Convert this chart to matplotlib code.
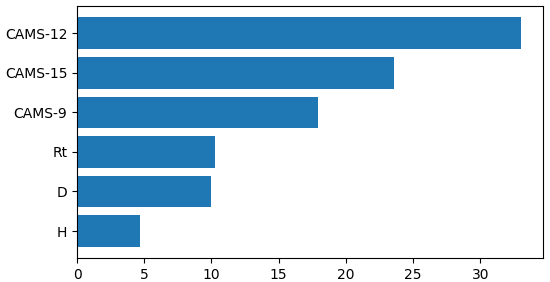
import matplotlib
matplotlib.use("Agg")
import matplotlib.pyplot as plt

categories = ["H", "D", "Rt", "CAMS-9", "CAMS-15", "CAMS-12"]
values = [4.7, 10.0, 10.3, 17.95, 23.55, 33.0]

fig = plt.figure(figsize=(5.5, 2.82), dpi=100)
ax = fig.add_axes([0.14, 0.084, 0.847, 0.895])
ax.barh(categories, values, color="#1f77b4")
ax.tick_params(labelsize=10)
fig.savefig("out.png", dpi=100)
